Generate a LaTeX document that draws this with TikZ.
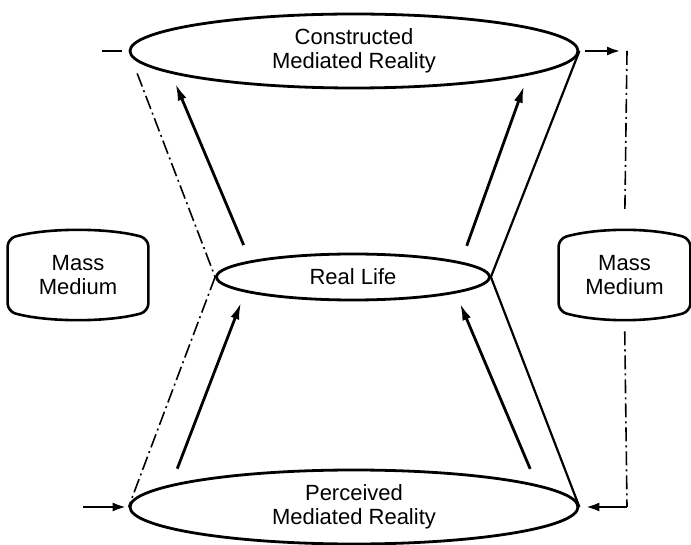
\documentclass[tikz,border=0pt]{standalone}
\usepackage{fontspec}
\setmainfont{Liberation Sans}
\usetikzlibrary{shapes.geometric,arrows.meta}

\tikzset{
    reality/.style={draw, ellipse, line width=1.4pt, inner sep=0pt,
        minimum width=224pt, minimum height=37pt, align=center},
    life/.style={draw, ellipse, line width=1.4pt, inner sep=0pt,
        minimum width=136.5pt, minimum height=23pt},
    medium/.style={inner sep=0pt, minimum height=36pt, align=center},
    flow/.style={line width=1.4pt, -{Latex[length=8.5pt,width=4.5pt]},
        shorten <=8.5pt, shorten >=5.5pt},
    feed/.style={line width=1.4pt, -{Latex[length=7pt,width=4.5pt]}},
    side/.style={line width=1.1pt},
    dashdot/.style={line width=0.8pt, dash pattern=on 7pt off 2pt on 1pt off 2pt},
}

\begin{document}
\begin{tikzpicture}[x=0.5pt, y=-0.5pt,
    every node/.style={font=\fontsize{11}{12}\selectfont}]
    \useasboundingbox (0,0) rectangle (691,545);

    % the three levels
    \node[reality] (cmr) at (354,51) {Constructed\\Mediated Reality};
    \node[life] (real) at (353,277) {Real Life};
    \node[reality] (pmr) at (354,507) {Perceived\\Mediated Reality};

    % the two media (top and bottom bow outwards)
    \node[medium, minimum width=70pt] (mmL) at (78,275) {Mass\\Medium};
    \node[medium, minimum width=65.5pt] (mmR) at (624.5,275) {Mass\\Medium};
    \foreach \m in {mmL, mmR}
        \draw[line width=1.3pt, rounded corners=4pt] (\m.west) -- (\m.north west)
            .. controls +(40,-11) and +(-40,-11) .. (\m.north east) -- (\m.south east)
            .. controls +(-40,11) and +(40,11) .. (\m.south west) -- cycle;

    % sides of the hourglass
    \draw[side] (cmr.east) -- (real.east) -- (pmr.east);
    \draw[dashdot, shorten <=12pt] (cmr.west) -- (real.west);
    \draw[dashdot] (real.west) -- (pmr.west);

    % construction and perception
    \draw[flow] (real.171.75) -- (cmr.187.6);
    \draw[flow] (real.8.25) -- (cmr.352.4);
    \draw[flow] (pmr.173) -- (real.188.2);
    \draw[flow] (pmr.7) -- (real.351.8);

    % loop through the medium on the right
    \coordinate (cR) at (627,51);
    \coordinate (dR) at (627,507);
    \draw[feed, shorten <=3pt, shorten >=3pt] (cmr.east) -- (cR);
    \draw[dashdot, shorten >=13pt] (cR) -- (mmR.north);
    \draw[dashdot, shorten <=10pt] (mmR.south) -- (dR);
    \draw[feed, shorten >=3pt] (dR) -- (pmr.east);

    % ends on the left
    \coordinate (cL) at (102,51);
    \coordinate (dL) at (83,507);
    \draw[line width=1.4pt, shorten >=3.5pt] (cL) -- (cmr.west);
    \draw[feed, shorten >=1pt] (dL) -- (pmr.west);
\end{tikzpicture}
\end{document}
